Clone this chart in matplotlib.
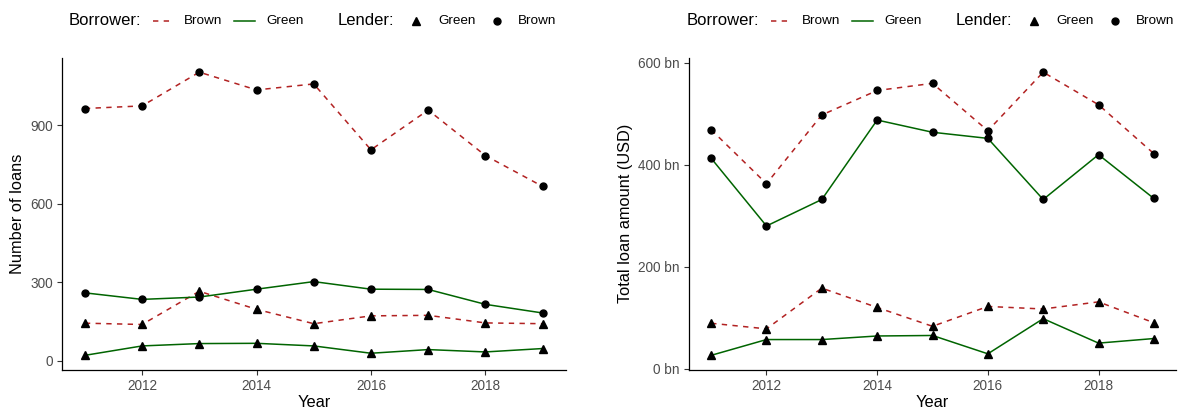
import matplotlib
matplotlib.use("Agg")
import matplotlib.pyplot as plt
from matplotlib.lines import Line2D
from matplotlib.ticker import FuncFormatter

plt.rcParams['font.family'] = ['Liberation Sans', 'DejaVu Sans']

years = [2011, 2012, 2013, 2014, 2015, 2016, 2017, 2018, 2019]

# Number of loans (borrower type / lender type)
n_bb = [964, 974, 1103, 1035, 1058, 806, 958, 784, 666]   # borrower brown, lender brown
n_gb = [259, 234, 243, 273, 302, 273, 272, 215, 182]      # borrower green, lender brown
n_bg = [143, 138, 265, 196, 141, 171, 173, 144, 141]      # borrower brown, lender green
n_gg = [20, 56, 65, 66, 56, 28, 42, 33, 46]               # borrower green, lender green

# Total loan amount (bn USD)
a_bb = [469, 363, 498, 546, 560, 467, 582, 518, 422]
a_gb = [413, 280, 332, 488, 464, 452, 332, 420, 334]
a_bg = [89, 78, 158, 120, 83, 122, 117, 131, 90]
a_gg = [26, 57, 57, 64, 65, 29, 98, 50, 59]

left_ticks = [0, 300, 600, 900]
right_ticks = [0, 200, 400, 600]
x_ticks = [2012, 2014, 2016, 2018]

BROWN = "#B22222"
GREEN = "#006400"
TICKC = "#4D4D4D"

W, H = 1188, 412
fig = plt.figure(figsize=(W / 100, H / 100), dpi=100)

def px_axes(x0, x1, ytop, ybot):
    return fig.add_axes([x0 / W, 1 - ybot / H, (x1 - x0) / W, (ybot - ytop) / H])

ax1 = px_axes(62, 565.5, 58, 369.5)
ax2 = px_axes(689, 1176, 58, 369.5)

def draw(ax, bb, gb, bg, gg, yticks, ylabel):
    dash = (3.5, 3.5)
    lw = 1.1
    ax.plot(years, bb, color=BROWN, lw=lw, dashes=dash, zorder=2)
    ax.plot(years, bg, color=BROWN, lw=lw, dashes=dash, zorder=2)
    ax.plot(years, gb, color=GREEN, lw=lw, zorder=2)
    ax.plot(years, gg, color=GREEN, lw=lw, zorder=2)
    for s in (bb, gb):
        ax.plot(years, s, ls='none', marker='o', ms=5, color='black', zorder=3)
    for s in (bg, gg):
        ax.plot(years, s, ls='none', marker='^', ms=6, color='black', zorder=3)
    allv = bb + gb + bg + gg
    lo, hi = min(allv), max(allv)
    pad = 0.05 * (hi - lo)
    ax.set_ylim(lo - pad, hi + pad)
    ax.set_xlim(2011 - 0.4, 2019 + 0.4)
    ax.set_xticks(x_ticks)
    ax.set_yticks(yticks)
    for s in ('top', 'right'):
        ax.spines[s].set_visible(False)
    for s in ('left', 'bottom'):
        ax.spines[s].set_linewidth(0.9)
    ax.tick_params(axis='both', length=3.5, width=0.8, color='#333333',
                   labelcolor=TICKC, labelsize=9.8, pad=3)
    ax.set_xlabel("Year", fontsize=11.8, labelpad=2)
    ax.set_ylabel(ylabel, fontsize=11.8, labelpad=4)

draw(ax1, n_bb, n_gb, n_bg, n_gg, left_ticks, "Number of loans")
draw(ax2, a_bb, a_gb, a_bg, a_gg, right_ticks, "Total loan amount (USD)")
ax2.yaxis.set_major_formatter(FuncFormatter(lambda v, p: f"{int(v)} bn"))

# Legends (manual, in pixel layout)
def legend(off):
    yc = 1 - 20.5 / H
    def fx(px):
        return (px + off) / W
    fig.text(fx(69), yc, "Borrower:", fontsize=12, va='center', ha='left')
    fig.add_artist(Line2D([fx(153), fx(172)], [yc, yc], color=BROWN, lw=1.1,
                          dashes=(3.5, 3.5), transform=fig.transFigure))
    fig.text(fx(184), yc, "Brown", fontsize=9.7, va='center', ha='left')
    fig.add_artist(Line2D([fx(234), fx(255)], [yc, yc], color=GREEN, lw=1.1,
                          transform=fig.transFigure))
    fig.text(fx(266), yc, "Green", fontsize=9.7, va='center', ha='left')
    fig.text(fx(338), yc, "Lender:", fontsize=12, va='center', ha='left')
    fig.add_artist(Line2D([fx(416)], [yc], ls='none', marker='^', ms=6,
                          color='black', transform=fig.transFigure))
    fig.text(fx(438), yc, "Green", fontsize=9.7, va='center', ha='left')
    fig.add_artist(Line2D([fx(497)], [yc], ls='none', marker='o', ms=5,
                          color='black', transform=fig.transFigure))
    fig.text(fx(518), yc, "Brown", fontsize=9.7, va='center', ha='left')

legend(0)
legend(618)

fig.savefig("out.png", dpi=100)
